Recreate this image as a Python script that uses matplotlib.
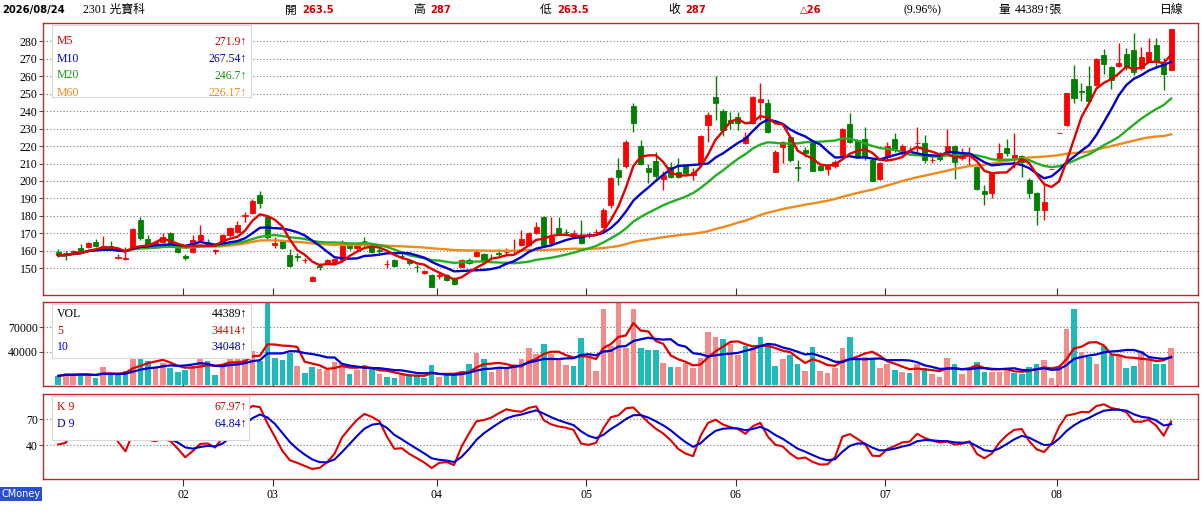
import numpy as np
import pandas as pd
import matplotlib
matplotlib.use("Agg")
import matplotlib.pyplot as plt
from matplotlib.patches import Rectangle

plt.rcParams['font.family'] = ['Liberation Serif', 'Noto Sans CJK TC', 'DejaVu Sans']

# --- daily candles 2301 ---
opens = [
    159.5, 159, 158, 161.5, 162, 165, 161.5, 162.5, 156, 155.5,
    161.5, 177.5, 166.8, 163.3, 165.2, 170, 161.6, 157.2, 159.5, 166.3,
    165.2, 159.8, 164.3, 169, 171, 180, 181.8, 192, 179.2, 163.3,
    165.6, 157.6, 157, 154.5, 142.9, 151.2, 153, 153, 154.8, 163,
    161.4, 165.8, 162.4, 160.3, 152.3, 154.8, 157, 154.8, 151, 147.1,
    146, 145.8, 146, 144.3, 151, 154.8, 157, 158.3, 156, 158.5,
    159.3, 160.3, 163.3, 163.3, 170, 179.5, 164.3, 173, 170.8, 169.8,
    169, 169.2, 170.8, 173.8, 186.3, 206.3, 208.6, 243.1, 220, 207.6,
    211.6, 201, 208.2, 205.3, 209.2, 203.4, 210.5, 232.1, 247.9, 240.2,
    234.9, 236.8, 221.9, 233, 245.4, 244.8, 205.3, 219.3, 225, 208.2,
    217.8, 222.6, 208.6, 206.7, 208.6, 214.9, 232.7, 223.5, 223.9, 212,
    201, 214, 223.9, 215.9, 217.5, 221.8, 222, 211.8, 215.9, 217.4,
    220, 213, 215.7, 207.9, 194.5, 193, 212.4, 218.7, 213, 214.5,
    200.6, 193, 183.4, 207, 227.3, 232.1, 258.4, 251.5, 254.4, 255,
    272.2, 265.5, 266, 272.6, 275, 264.5, 268.4, 277.9, 267.4, 263.5,
]
highs = [
    161, 160, 160.5, 164, 165, 166.5, 168.5, 165.5, 158, 162,
    173, 179.5, 169, 165.5, 170, 170.5, 162.5, 158, 169, 175,
    167, 161, 169.5, 173.5, 177, 182.3, 189.5, 194, 180, 168,
    166, 161, 159, 156, 145.5, 153, 155.5, 156, 166, 164,
    164, 168, 163, 161.5, 155, 155.5, 158.5, 155.5, 152.5, 149,
    146.5, 147.5, 147, 145, 155.5, 156, 160.5, 159, 158, 161,
    161.5, 167, 172, 171, 176.5, 180, 179.5, 179.5, 172.5, 172,
    177.5, 171, 172.5, 184.5, 202.5, 213, 223.5, 244.4, 223.4, 210,
    216.8, 206, 211, 213, 210, 207.3, 226.5, 239.7, 260, 241,
    239.7, 239.7, 228.2, 248.5, 256.3, 246.7, 217.5, 223, 226, 212,
    219.5, 223.5, 210, 209, 212, 230.5, 238.8, 224, 231, 213,
    211, 222.6, 227.3, 221, 219.7, 231, 226.3, 213.5, 216.5, 230,
    220.5, 218.7, 219.7, 208.5, 197.5, 205, 221.7, 224, 227.3, 215,
    201.5, 193.5, 199.7, 207, 227.3, 250.2, 266.5, 256, 266, 270.5,
    275.6, 266, 278.9, 276, 284.6, 277, 281.7, 281.7, 270.2, 287,
]
lows = [
    156.5, 154.5, 157.5, 159.5, 161.5, 162, 161, 160.5, 155.5, 155,
    161, 166, 162.5, 162.5, 164.5, 164, 159, 154.5, 159, 165.5,
    162.5, 158, 163.5, 168, 170.5, 176.5, 181, 184.6, 167, 161.5,
    161, 151, 154, 153, 142.5, 149, 152.5, 152.5, 154.5, 160.5,
    160.5, 163, 158.5, 159, 150, 150.5, 155.5, 152, 147.6, 146.5,
    139, 144, 142.5, 140.5, 150.5, 152.5, 156.5, 153.5, 154.5, 157,
    158, 159, 162.5, 162.5, 169.5, 163, 163.5, 169.5, 169, 168.5,
    164, 167.5, 169.5, 173.5, 184.5, 197.7, 207.5, 228.2, 209, 199,
    201.5, 194.8, 201.5, 201.5, 203.5, 200.6, 210, 222.5, 235, 225.5,
    230, 229, 221, 232.5, 235, 227.5, 205, 210.5, 211, 200,
    214, 205.5, 205.5, 203.5, 207.5, 214.5, 221.5, 213.5, 212, 200,
    200.5, 212, 216.8, 215, 216.5, 216.5, 210.5, 210.5, 211.5, 216.8,
    201, 212, 209, 195, 186.3, 190.5, 211.5, 214.5, 207.3, 202.5,
    190, 174.8, 177.7, 207, 227.3, 231.5, 244.5, 246, 244.5, 254.5,
    261, 252.7, 265, 263.7, 260.6, 263.5, 268, 264.5, 252, 263.5,
]
closes = [
    157.5, 157.5, 160, 159.8, 164.5, 162.5, 162.5, 161, 156.5, 156,
    172.3, 167.2, 163.3, 165, 168, 164.6, 159.5, 156, 166.3, 169,
    163.3, 160.2, 169, 173, 175, 180.5, 188.7, 187.2, 168.1, 164.6,
    161.4, 151.3, 156.7, 154.8, 145.2, 151, 154.8, 155.3, 162.8, 161.4,
    163.3, 165.4, 159.2, 160, 152.6, 151.3, 156.8, 153, 150.7, 148.6,
    139.1, 146.1, 143.3, 141, 154.8, 153.3, 159.5, 154.4, 155.7, 158.3,
    159.5, 160.5, 167, 170.4, 173.8, 163.3, 168.3, 170, 170.6, 170,
    164.3, 169, 171, 183.2, 201.5, 202.5, 222.5, 233, 210, 205.3,
    202.8, 203.4, 202.5, 202.5, 204.4, 205.3, 225.8, 237.8, 244.5, 229.2,
    233, 233, 225.3, 247.9, 246.7, 228.2, 216.8, 222.5, 212, 207.2,
    215.9, 206, 206.3, 208.6, 211, 229.8, 222.6, 214, 214, 200.2,
    210.2, 220.1, 217.8, 220, 217.8, 222, 212, 212, 212.4, 220,
    211.1, 214, 215.9, 195.3, 192.6, 204.4, 215.9, 216.3, 215, 211.1,
    193, 183.4, 188.2, 207, 227.3, 250.2, 247.4, 251.2, 245.8, 269.9,
    266.8, 257.9, 267.4, 265.5, 262.6, 271.2, 274, 268.4, 261, 287,
]
volumes = [
    10900, 13800, 12150, 13800, 12150, 8900, 22300, 13000, 11700, 17000,
    37300, 36500, 29200, 22300, 27100, 21000, 16200, 17800, 23100, 33200,
    29200, 12150, 25100, 36500, 34000, 36500, 41300, 29200, 105000, 33200,
    30000, 39300, 23100, 15000, 22300, 19000, 17800, 28350, 27100, 13000,
    17800, 23900, 20250, 13800, 10100, 8100, 13800, 12150, 12150, 8900,
    24300, 9700, 12150, 12150, 17000, 25900, 39300, 31200, 16200, 21000,
    19000, 25100, 31200, 45400, 37300, 49400, 38100, 31200, 24300, 23100,
    57500, 35200, 17000, 91900, 47000, 100000, 44500, 92700, 45400, 42100,
    42100, 27100, 22300, 22300, 26300, 20250, 33200, 64800, 58700, 55500,
    49400, 36000, 47400, 45400, 58700, 49400, 23100, 31200, 36500, 25100,
    17000, 46200, 17000, 15000, 21000, 45400, 58300, 32000, 34000, 31200,
    21000, 25100, 17800, 16200, 15000, 25100, 20250, 13000, 10100, 33200,
    25100, 13800, 19000, 28350, 16200, 16200, 16200, 19000, 15000, 13000,
    21900, 25900, 30400, 8900, 23100, 67600, 91900, 40500, 34000, 25900,
    47400, 36500, 36500, 21000, 23100, 41300, 33200, 25900, 25900, 44389,
]

month_starts = [17, 29, 51, 71, 91, 111, 134]
month_labels = ['02', '03', '04', '05', '06', '07', '08']

price_ticks = list(range(150, 290, 10))
vol_ticks = [40000, 70000]
kd_ticks = [40, 70]

ma_names = ['M5', 'M10', 'M20', 'M60']
ma_values = ['271.9', '267.54', '246.7', '226.17']
vol_names = ['VOL', '5', '10']
vol_values = ['44389', '34414', '34048']
kd_names = ['K 9', 'D 9']
kd_values = ['67.97', '64.84']

# --- derived series ---
o = np.array(opens)
h = np.array(highs)
l = np.array(lows)
c = np.array(closes)
v = np.array(volumes)
N = len(c)
x = np.arange(N)
cs = pd.Series(c)
ma = {n: cs.rolling(n, min_periods=1).mean().values for n in (5, 10, 20, 60)}
vs = pd.Series(v)
vma5 = vs.rolling(5, min_periods=1).mean().values
vma10 = vs.rolling(10, min_periods=1).mean().values

K = np.zeros(N)
D = np.zeros(N)
kp, dp = 50.0, 50.0
for i in range(N):
    lo = l[max(0, i - 8):i + 1].min()
    hi = h[max(0, i - 8):i + 1].max()
    rsv = 50.0 if hi == lo else (c[i] - lo) / (hi - lo) * 100
    kp = kp * 2 / 3 + rsv / 3
    dp = dp * 2 / 3 + kp / 3
    K[i], D[i] = kp, dp

RED = '#FF0000'
GREEN = '#008000'
FRAME = '#B03030'
W, H = 1203, 513


def rect(x0, y0, x1, y1):
    return [x0 / W, 1 - y1 / H, (x1 - x0) / W, (y1 - y0) / H]


fig = plt.figure(figsize=(W / 100, H / 100), dpi=100)
ax_p = fig.add_axes(rect(43.3, 22.7, 1198, 295))
ax_v = fig.add_axes(rect(43.3, 302, 1198, 386.3))
ax_k = fig.add_axes(rect(43.3, 394, 1198, 479))

xt = [m - 0.3 for m in month_starts]
for ax in (ax_p, ax_v, ax_k):
    ax.set_xlim(-2.0, 152.6)
    for s in ax.spines.values():
        s.set_color(FRAME)
        s.set_linewidth(1)
    ax.set_axisbelow(True)
    ax.yaxis.grid(True, linestyle=(0, (1, 2)), color='#777777', linewidth=0.8)
    ax.tick_params(axis='y', direction='out', length=3, color='#555555',
                   labelsize=8.5, pad=1)
    ax.set_xticks(xt)
    ax.tick_params(axis='x', direction='in', length=5, color='#333333',
                   labelbottom=False)

# price panel
up = c >= o
ccol = np.where(up, RED, GREEN)
ax_p.vlines(x, l, h, colors=ccol, linewidth=1, zorder=3)
ax_p.bar(x, np.abs(c - o), bottom=np.minimum(o, c), width=0.68, color=ccol,
         edgecolor=ccol, linewidth=0.6, zorder=4)
ma_cols = ['#E00000', '#0000CC', '#22B022', '#F08A1E']
for n, col in zip((60, 20, 10, 5), ma_cols[::-1]):
    ax_p.plot(x, ma[n], color=col, linewidth=1.7, zorder=5)
ax_p.set_ylim(134.7, 290.65)
ax_p.set_yticks(price_ticks)

# volume panel
prev = np.concatenate([[o[0]], c[:-1]])
vcol = np.where(c >= prev, '#F58A8A', '#1CBABA')
ax_v.bar(x, v, width=0.75, color=vcol, zorder=2)
ax_v.plot(x, vma5, color='#E00000', linewidth=1.6, zorder=4)
ax_v.plot(x, vma10, color='#0000CC', linewidth=1.6, zorder=4)
ax_v.set_ylim(-1700, 100700)
ax_v.set_yticks(vol_ticks)

# KD panel
ax_k.plot(x, K, color='#E00000', linewidth=1.5, zorder=4)
ax_k.plot(x, D, color='#0000CC', linewidth=1.5, zorder=4)
ax_k.set_ylim(0.8, 99)
ax_k.set_yticks(kd_ticks)
ax_k.tick_params(axis='x', direction='out', length=5, labelbottom=True,
                 labelsize=8.5, pad=2)
ax_k.set_xticklabels(month_labels)


def legend_box(x0, y0, x1, y1):
    fig.add_artist(Rectangle((x0 / W, 1 - y1 / H), (x1 - x0) / W, (y1 - y0) / H,
                             transform=fig.transFigure, facecolor='white',
                             edgecolor='#D8D8D8', linewidth=0.8, zorder=10))


def legend_rows(names, values, colors, y0, step):
    for k, (nm, val, col) in enumerate(zip(names, values, colors)):
        y = 1 - (y0 + k * step) / H
        fig.text(57 / W, y, nm, color=col, fontsize=8.5, va='center', zorder=11)
        fig.text(247 / W, y, val + '↑', color=col, fontsize=8.5, va='center',
                 ha='right', zorder=11)


legend_box(52, 25, 251, 97)
legend_rows(ma_names, ma_values, ['#D00000', '#0000CC', '#119911', '#E88A1E'], 41.5, 17)
legend_box(52, 304, 251, 358)
legend_rows(vol_names, vol_values, ['black', '#D00000', '#0000CC'], 314, 16.5)
legend_box(52, 396, 249, 440)
legend_rows(kd_names, kd_values, ['#D00000', '#0000CC'], 407, 17)

# header line
hy = 1 - 10 / H
chg = c[-1] - c[-2]
bold = dict(fontweight='bold', family=['DejaVu Sans', 'Noto Sans CJK TC'], fontsize=7.2)
fig.text(2 / W, hy, '2026/08/24', color='black', va='center', **bold)
fig.text(83 / W, hy, '2301 光寶科', fontsize=8.5, va='center')
for lab, val, xl in (('開', o[-1], 285), ('高', h[-1], 413), ('低', l[-1], 540), ('收', c[-1], 668)):
    fig.text(xl / W, hy, lab, fontsize=8.5, va='center', family=['Noto Sans CJK TC'])
    fig.text((xl + 17) / W, hy, f'{val:g}', color='#D00000', va='center', **bold)
fig.text(800 / W, hy, f'△{chg:g}', color='#D00000', va='center', **bold)
fig.text(904 / W, hy, f'({chg / c[-2] * 100:.2f}%)', fontsize=8.5, va='center')
fig.text(998 / W, hy, '量', fontsize=8.5, va='center', family=['Noto Sans CJK TC'])
fig.text(1015 / W, hy, f'{v[-1]}↑張', fontsize=8.5, va='center')
fig.text(1160 / W, hy, '日線', fontsize=8.5, va='center', family=['Noto Sans CJK TC'])

fig.text(1 / W, 1 - 494 / H, 'CMoney', color='white', fontsize=7, va='center',
         family=['DejaVu Sans'],
         bbox=dict(facecolor='#2A4FD6', edgecolor='none', pad=1.2))

fig.savefig('out.png', dpi=100)
